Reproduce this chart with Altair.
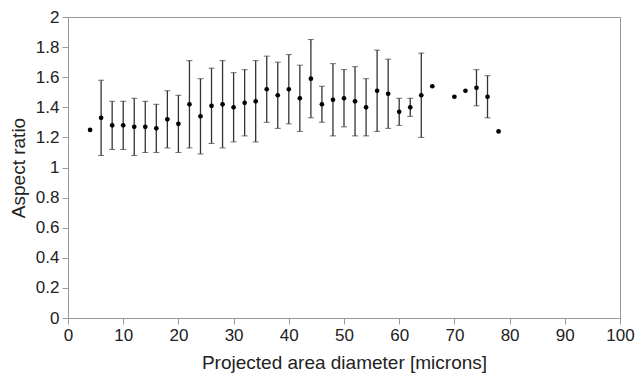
import altair as alt
import pandas as pd

diameter = [4, 6, 8, 10, 12, 14, 16, 18, 20, 22, 24, 26, 28, 30, 32, 34, 36, 38, 40, 42,
            44, 46, 48, 50, 52, 54, 56, 58, 60, 62, 64, 66, 70, 72, 74, 76, 78]
ratio = [1.25, 1.33, 1.28, 1.28, 1.27, 1.27, 1.26, 1.32, 1.29, 1.42, 1.34, 1.41, 1.42, 1.40,
         1.43, 1.44, 1.52, 1.48, 1.52, 1.46, 1.59, 1.42, 1.45, 1.46, 1.44, 1.40, 1.51, 1.49,
         1.37, 1.40, 1.48, 1.54, 1.47, 1.51, 1.53, 1.47, 1.24]
upper = [None, 1.58, 1.44, 1.44, 1.46, 1.44, 1.42, 1.51, 1.48, 1.71, 1.59, 1.66, 1.71, 1.63,
         1.65, 1.71, 1.74, 1.70, 1.75, 1.68, 1.85, 1.54, 1.69, 1.65, 1.67, 1.59, 1.78, 1.72,
         1.46, 1.46, 1.76, None, None, None, 1.65, 1.61, None]
lower = [None, 1.08, 1.12, 1.12, 1.08, 1.10, 1.10, 1.13, 1.10, 1.13, 1.09, 1.16, 1.13, 1.17,
         1.21, 1.17, 1.30, 1.26, 1.29, 1.24, 1.33, 1.30, 1.21, 1.27, 1.21, 1.21, 1.24, 1.26,
         1.28, 1.34, 1.20, None, None, None, 1.41, 1.33, None]
x_ticks = [0, 10, 20, 30, 40, 50, 60, 70, 80, 90, 100]
y_ticks = [0, 0.2, 0.4, 0.6, 0.8, 1, 1.2, 1.4, 1.6, 1.8, 2]

df = pd.DataFrame({"d": diameter, "r": ratio, "hi": upper, "lo": lower})
err = df.dropna()

xs = alt.Scale(domain=[0, 100], nice=False, zero=False)
ys = alt.Scale(domain=[0, 2], nice=False)

x_axis = alt.Axis(values=x_ticks, title="Projected area diameter [microns]",
                  grid=False, titlePadding=10, labelFlush=False, labelOverlap=False,
                  titleFontSize=19)
y_axis = alt.Axis(values=y_ticks, title="Aspect ratio",
                  grid=False, titlePadding=7, format="~g", labelOverlap=False,
                  labelFlush=False, titleFontSize=19)

X = alt.X("d:Q", scale=xs, axis=x_axis)

bars = alt.Chart(err).mark_rule(color="#333333", strokeWidth=1.3).encode(
    x=X,
    y=alt.Y("lo:Q", scale=ys, axis=y_axis),
    y2="hi:Q",
)
cap_hi = alt.Chart(err).mark_tick(orient="horizontal", size=6, thickness=1, color="#333333").encode(
    x=X, y=alt.Y("hi:Q", scale=ys, axis=y_axis))
cap_lo = alt.Chart(err).mark_tick(orient="horizontal", size=6, thickness=1, color="#333333").encode(
    x=X, y=alt.Y("lo:Q", scale=ys, axis=y_axis))
dots = alt.Chart(df).mark_point(filled=True, color="black", size=22, opacity=1).encode(
    x=X, y=alt.Y("r:Q", scale=ys, axis=y_axis))

chart = alt.layer(bars, cap_hi, cap_lo, dots).properties(
    width=552, height=301,
    autosize=alt.AutoSizeParams(type="none"),
    padding={"left": 60, "top": 9, "right": 15, "bottom": 55},
).configure_view(stroke="#999999", strokeWidth=1).configure_axis(
    domainColor="#999999", tickColor="#999999", tickSize=6,
    labelFont="Liberation Sans", titleFont="Liberation Sans",
    labelFontSize=17, labelColor="#222222", titleColor="#222222",
    titleFontWeight="normal", labelPadding=3, labelOverlap=False,
)

chart.save("out.html", embed_options={"renderer": "svg", "actions": False})
